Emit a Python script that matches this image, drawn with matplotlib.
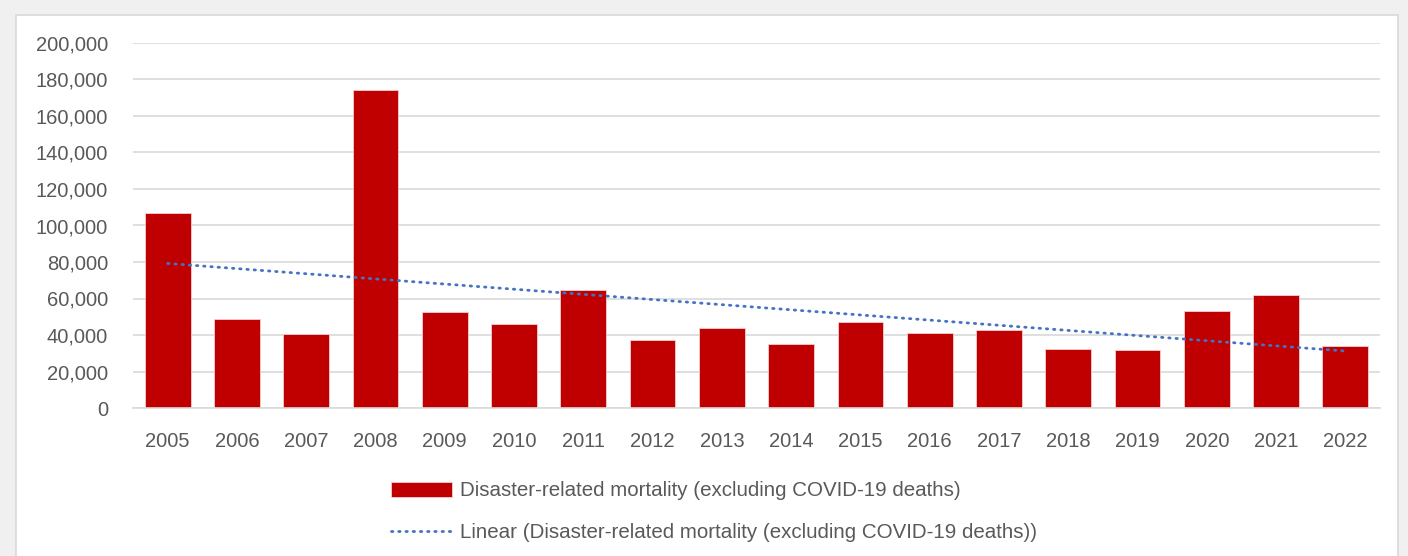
import numpy as np
import matplotlib.pyplot as plt
from matplotlib.patches import Rectangle
from matplotlib.ticker import FuncFormatter

years = ['2005', '2006', '2007', '2008', '2009', '2010', '2011', '2012', '2013',
         '2014', '2015', '2016', '2017', '2018', '2019', '2020', '2021', '2022']
deaths = [106600, 48600, 40500, 174300, 52400, 46000, 64600, 37100, 44000,
          35200, 47300, 41200, 42500, 32500, 31900, 53300, 62000, 33800]

bar_label = 'Disaster-related mortality (excluding COVID-19 deaths)'
trend_label = 'Linear (Disaster-related mortality (excluding COVID-19 deaths))'

plt.rcParams['font.family'] = ['Liberation Sans', 'DejaVu Sans']
grey_txt = '#595959'

fig = plt.figure(figsize=(14.08, 5.56), dpi=100)
fig.patch.set_facecolor('#f0f0f0')
# white chart panel
fig.patches.append(Rectangle((16 / 1408, -0.05), (1398 - 16) / 1408, 1.05 - 15 / 556,
                             transform=fig.transFigure, facecolor='white',
                             edgecolor='#d9d9d9', linewidth=1.2, zorder=-5))

ax = fig.add_axes([133 / 1408, 1 - 408 / 556, (1380 - 133) / 1408, (408 - 43) / 556])
ax.set_zorder(2)
ax.set_facecolor('none')

x = np.arange(len(years))
bars = ax.bar(x, deaths, width=0.66, color='#c00000', edgecolor='#f2d0d0', linewidth=0.6,
              label=bar_label, zorder=2)

# linear trendline (least squares, as Excel does)
k, b = np.polyfit(x, deaths, 1)
trend, = ax.plot(x, k * x + b, color='#4472c4', linestyle=(0, (0.5, 2.1)), linewidth=2.0,
                 dash_capstyle='round', label=trend_label, zorder=3)

ax.set_xlim(-0.5, len(years) - 0.5)
ax.set_ylim(0, 200000)
ax.set_yticks(np.arange(0, 200001, 20000))
ax.yaxis.set_major_formatter(FuncFormatter(lambda v, p: f'{int(v):,}'))
ax.set_xticks(x)
ax.set_xticklabels(years)
ax.grid(axis='y', color='#d9d9d9', linewidth=1.2, zorder=0)
ax.set_axisbelow(True)
for s in ['top', 'right', 'left']:
    ax.spines[s].set_visible(False)
ax.spines['bottom'].set_color('#d9d9d9')
ax.spines['bottom'].set_linewidth(1.2)
ax.tick_params(axis='both', length=0, labelsize=14.5, colors=grey_txt)
ax.tick_params(axis='y', pad=18)
ax.tick_params(axis='x', pad=17)

leg = fig.legend([bars, trend], [bar_label, trend_label], loc='upper left',
                 bbox_to_anchor=(372 / 1408, 1 - 463 / 556),
                 frameon=False, fontsize=14.8, handlelength=3.0, handleheight=0.7,
                 labelspacing=1.1, handletextpad=0.4)
for t in leg.get_texts():
    t.set_color(grey_txt)

fig.savefig('out.png', dpi=100, facecolor=fig.get_facecolor())
